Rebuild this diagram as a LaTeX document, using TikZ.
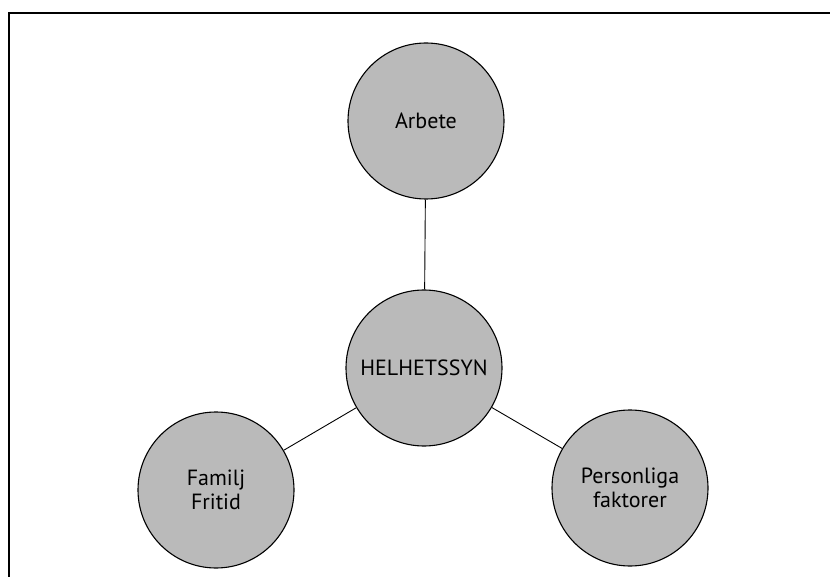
\documentclass[tikz,border=0pt]{standalone}
\usepackage{fontspec}
\setmainfont{PT Sans}
\definecolor{discfill}{RGB}{186,186,186}
\begin{document}
\begin{tikzpicture}[x=1pt,y=-1pt,
    disc/.style={circle, draw, line width=1.1pt, fill=discfill, minimum size=156pt,
      inner sep=0pt, align=center, font=\fontsize{22}{24}\selectfont}]
    \useasboundingbox (0,0) rectangle (830,577);
    \draw[line width=1.6pt] (9,577) -- (9,13) -- (830,13);
    \node[disc] (arbete) at (426,121) {Arbete};
    \node[disc] (helhet) at (424,368) {HELHETSSYN};
    \node[disc] (familj) at (216,490) {Familj\\Fritid};
    \node[disc] (pers) at (630,488) {Personliga\\faktorer};
    \draw[line width=0.9pt] (arbete) -- (helhet);
    \draw[line width=0.9pt] (helhet) -- (familj);
    \draw[line width=0.9pt] (helhet) -- (pers);
\end{tikzpicture}
\end{document}
